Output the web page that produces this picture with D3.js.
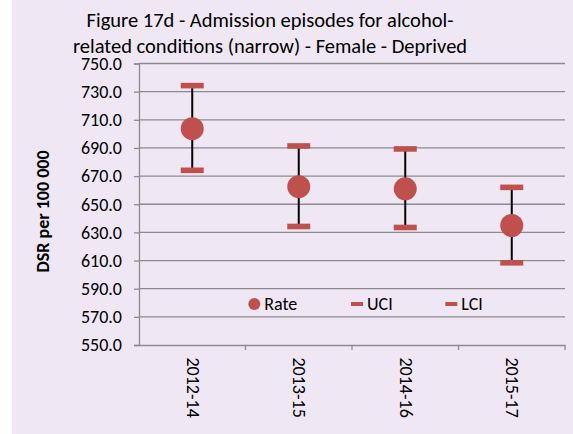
<!DOCTYPE html>
<html><head><meta charset="utf-8">
<script src="https://cdn.jsdelivr.net/npm/d3@7"></script>
<style>html,body{margin:0;padding:0;background:#fff;}svg{display:block;}</style>
</head><body>
<script>
const categories = ["2012-14", "2013-15", "2014-16", "2015-17"];
const rate = [703.7, 662.5, 661.0, 634.9];
const uci = [734.3, 691.4, 689.3, 662.0];
const lci = [674.1, 634.2, 633.5, 608.4];
const yTicks = [550, 570, 590, 610, 630, 650, 670, 690, 710, 730, 750];
const titleLines = ["Figure 17d - Admission episodes for alcohol-", "related conditions (narrow) - Female - Deprived"];
const yLabel = "DSR per 100 000";
const legendItems = ["Rate", "UCI", "LCI"];

(function () {
const W = 573, H = 434;
const red = "#C0504D";
const font = "Carlito, Calibri, Lato, 'Open Sans', sans-serif";
const svg = d3.select("body").append("svg").attr("width", W).attr("height", H);
svg.append("rect").attr("x", 12).attr("y", 0).attr("width", W - 12).attr("height", H).attr("fill", "#EFE7F4");

const pL = 139, pR = 565, pT = 63.5, pB = 345;
const x = d3.scaleBand().domain(categories).range([pL, pR]).padding(0);
const y = d3.scaleLinear().domain([550, 750]).range([pB, pT]);

// gridlines
svg.append("g").selectAll("line").data(yTicks.slice(1)).join("line")
  .attr("x1", pL).attr("x2", pR).attr("y1", d => y(d)).attr("y2", d => y(d))
  .attr("stroke", "#8C8C8C").attr("stroke-width", 1.3);

// y axis
const ya = svg.append("g").attr("transform", `translate(${pL},0)`)
  .call(d3.axisLeft(y).tickValues(yTicks).tickFormat(d3.format(".1f")).tickSize(5).tickPadding(12));
ya.select(".domain").attr("stroke", "#8C8C8C").attr("stroke-width", 1.3);
ya.selectAll(".tick line").attr("stroke", "#8C8C8C").attr("stroke-width", 1.3);
ya.selectAll("text").attr("font-family", font).attr("font-size", 18).attr("fill", "#000");

// x axis
const xa = svg.append("g").attr("transform", `translate(0,${pB})`)
  .call(d3.axisBottom(x).tickSize(0).tickFormat(""));
xa.select(".domain").attr("stroke", "#8C8C8C").attr("stroke-width", 1.3);
const edges = categories.map(c => x(c) + x.bandwidth());
svg.append("g").selectAll("line").data(edges).join("line")
  .attr("x1", d => d).attr("x2", d => d).attr("y1", pB).attr("y2", pB + 5)
  .attr("stroke", "#8C8C8C").attr("stroke-width", 1.3);
svg.append("g").selectAll("text").data(categories).join("text")
  .attr("transform", d => `translate(${x(d) + x.bandwidth() / 2 - 5.7},357.5) rotate(90)`)
  .attr("font-family", font).attr("font-size", 18).attr("fill", "#000")
  .attr("text-anchor", "start").text(d => d);

// error bars
const g = svg.append("g");
categories.forEach((c, i) => {
  const cx = x(c) + x.bandwidth() / 2;
  g.append("line").attr("x1", cx).attr("x2", cx).attr("y1", y(uci[i])).attr("y2", y(lci[i]))
    .attr("stroke", "#000").attr("stroke-width", 2);
  [uci[i], lci[i]].forEach(v => {
    g.append("rect").attr("x", cx - 11.5).attr("y", y(v) - 2.8).attr("width", 23).attr("height", 5.6).attr("fill", red);
  });
  g.append("circle").attr("cx", cx).attr("cy", y(rate[i])).attr("r", 11.5).attr("fill", red);
});

// legend
const lg = svg.append("g");
const lx = [254.3, 351, 445.3], ly = 304;
legendItems.forEach((t, i) => {
  if (i === 0) lg.append("circle").attr("cx", lx[i]).attr("cy", ly).attr("r", 6).attr("fill", red);
  else lg.append("rect").attr("x", lx[i]).attr("y", ly - 2).attr("width", 12).attr("height", 4).attr("fill", red);
  lg.append("text").attr("x", i === 0 ? 264.3 : lx[i] + 16).attr("y", 310)
    .attr("font-family", font).attr("font-size", 18).attr("fill", "#000").text(t);
});

// y label
svg.append("text").attr("transform", `translate(49,211.5) rotate(-90)`)
  .attr("text-anchor", "middle").attr("font-family", font).attr("font-size", 18).attr("font-weight", "bold")
  .attr("fill", "#000").text(yLabel);

// title
svg.append("g").selectAll("text").data(titleLines).join("text")
  .attr("x", 270).attr("y", (d, i) => 27 + i * 26.3)
  .attr("text-anchor", "middle").attr("font-family", font).attr("font-size", 20.5).attr("fill", "#000").text(d => d);
})();
</script>
</body></html>
